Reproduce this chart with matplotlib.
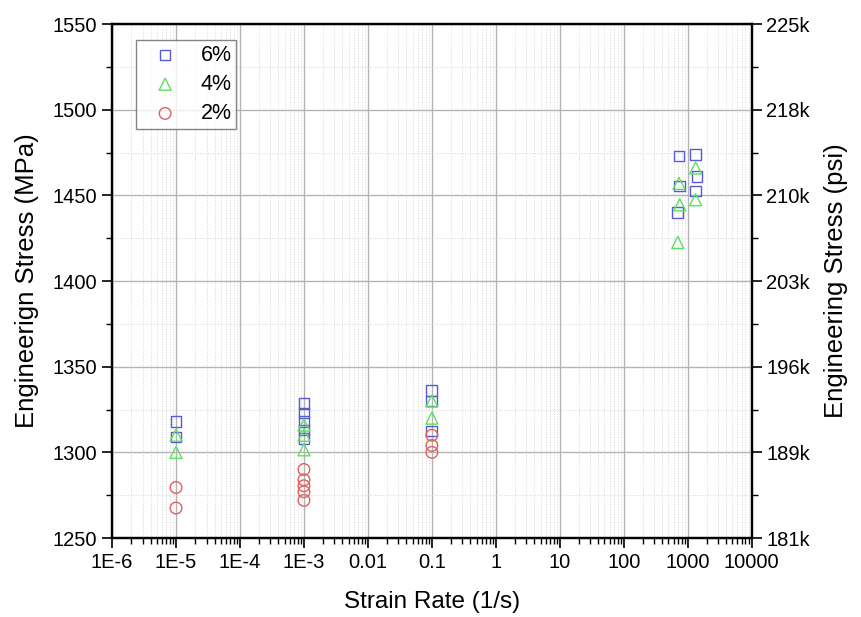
import numpy as np
from matplotlib import pyplot as plt
from matplotlib.ticker import FixedLocator, LogLocator, NullFormatter

plt.rcParams['font.family'] = ['Liberation Sans', 'DejaVu Sans']

# strain rate (1/s) and stress (MPa)
rate6 = [1e-5, 1e-5, 1e-3, 1e-3, 1e-3, 1e-3, 1e-3, 0.1, 0.1, 0.1,
         730, 1330, 1400, 750, 1330, 700]
stress6 = [1318, 1309, 1328.5, 1323, 1318, 1313, 1308, 1336, 1330, 1312.5,
           1473, 1474, 1461, 1455.5, 1452.5, 1440]

rate4 = [1e-5, 1e-5, 1e-3, 1e-3, 1e-3, 0.1, 0.1,
         1330, 730, 750, 1330, 700]
stress4 = [1300, 1310, 1316, 1310, 1301.5, 1320, 1330,
           1466, 1457, 1444.5, 1447.5, 1422.5]

rate2 = [1e-5, 1e-5, 1e-3, 1e-3, 1e-3, 1e-3, 1e-3, 0.1, 0.1, 0.1]
stress2 = [1279.5, 1267.5, 1290, 1284, 1280.5, 1277, 1272, 1310, 1304, 1300]

yticks = [1250, 1300, 1350, 1400, 1450, 1500, 1550]
psi_labels = ['181k', '189k', '196k', '203k', '210k', '218k', '225k']
xtick_labels = ['1E-6', '1E-5', '1E-4', '1E-3', '0.01', '0.1', '1', '10', '100', '1000', '10000']

fig = plt.figure(figsize=(8.62, 6.17), dpi=100)
ax = fig.add_axes([0.130, 0.128, 0.742, 0.833])

ax.set_xscale('log')
ax.set_xlim(1e-6, 1e4)
ax.set_ylim(1250, 1550)

ax.scatter(rate6, stress6, marker='s', s=60, facecolors='none', edgecolors='#5a5ad2', linewidths=1.0, label='6%', zorder=3)
ax.scatter(rate4, stress4, marker='^', s=75, facecolors='none', edgecolors='#5ee05e', linewidths=1.0, label='4%', zorder=3)
ax.scatter(rate2, stress2, marker='o', s=70, facecolors='none', edgecolors='#e06060', linewidths=1.0, label='2%', zorder=3)

ax.set_xticks([10.0 ** k for k in range(-6, 5)])
ax.set_xticklabels(xtick_labels)
ax.xaxis.set_minor_locator(LogLocator(base=10, subs=np.arange(2, 10), numticks=20))
ax.xaxis.set_minor_formatter(NullFormatter())
ax.set_yticks(yticks)
ax.yaxis.set_minor_locator(FixedLocator([1275, 1325, 1375, 1425, 1475, 1525]))

ax.grid(True, which='major', color='#b4b4b4', linewidth=1.0, zorder=0)
ax.grid(True, which='minor', color='#d6d6d6', linewidth=0.7, linestyle=':', zorder=0)
ax.set_axisbelow(True)

ax.tick_params(which='major', direction='out', length=7, width=1.2, labelsize=14.5, top=False, right=False)
ax.tick_params(which='minor', direction='out', length=4, width=1.0, top=False, right=False)
for sp in ax.spines.values():
    sp.set_linewidth(1.6)

ax.set_xlabel('Strain Rate (1/s)', fontsize=17.5, labelpad=14)
ax.set_ylabel('Engineerign Stress (MPa)', fontsize=18.5, labelpad=10)

ax2 = ax.twinx()
ax2.set_ylim(1250, 1550)
ax2.set_yticks(yticks)
ax2.set_yticklabels(psi_labels)
ax2.yaxis.set_minor_locator(FixedLocator([1275, 1325, 1375, 1425, 1475, 1525]))
ax2.tick_params(which='major', direction='out', length=7, width=1.2, labelsize=14.5)
ax2.tick_params(which='minor', direction='out', length=4, width=1.0)
ax2.set_ylabel('Engineering Stress (psi)', fontsize=18.5, labelpad=10)
for sp in ax2.spines.values():
    sp.set_linewidth(1.6)

leg = ax.legend(loc='upper left', bbox_to_anchor=(0.02, 0.99), fontsize=15.5, frameon=True,
                fancybox=False, edgecolor='#666666', handletextpad=0.5, labelspacing=0.38,
                borderpad=0.22, handlelength=2.3)
leg.get_frame().set_linewidth(1.0)

fig.savefig('out.png', dpi=100)
